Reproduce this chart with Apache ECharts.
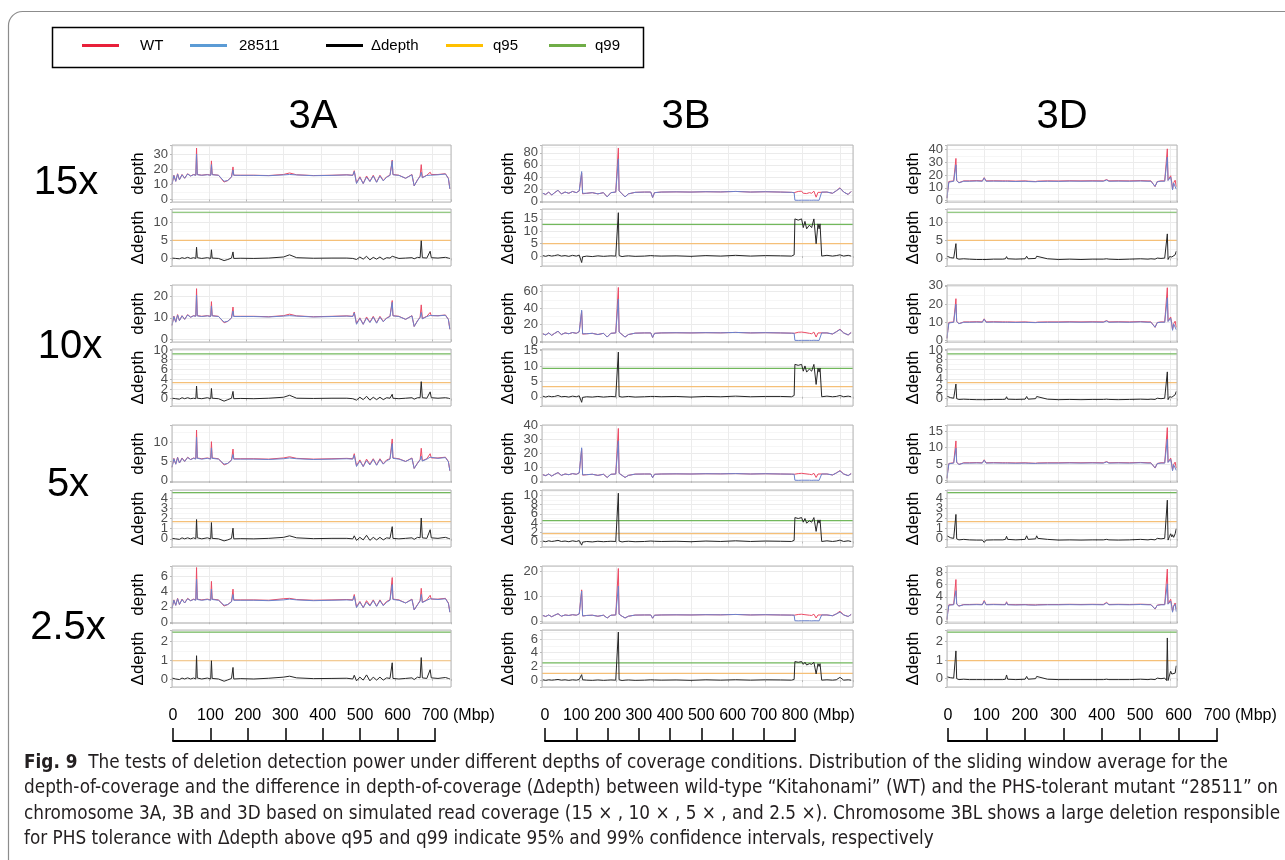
<!DOCTYPE html>
<html><head><meta charset="utf-8">
<script src="https://cdn.jsdelivr.net/npm/echarts@6.0.0/dist/echarts.min.js"></script>
<style>html,body{margin:0;padding:0;background:#fff}#c{width:1285px;height:860px}</style>
</head><body><div id="c"></div>
<script>
// ---------- positions (Mbp) ----------
const posA = [0,5,10,15,20,27,34,42,50,58,64,66,68,80,95,104,106,108,125,140,150,160,164,166,185,220,260,300,316,335,380,430,470,486,490,496,505,514,523,532,541,550,559,568,577,586,590,592,594,610,628,645,651,660,667,670,673,685,694,697,715,735,743,747];
const posB = [2,10,18,26,34,43,52,62,72,82,92,100,104,106.5,109,120,135,150,165,175,185,198,203,205,207,215,223,232,250,275,292,297,302,320,360,400,440,480,520,560,600,640,670,677,679,688,697,701.5,706,710.5,718,724,730,736,741,744,746.5,749,751,765,780,790,800,810,822,830];
const posD = [0,2,5,10,18,22,24,26,32,45,60,80,95,100,105,125,150,157,160,163,185,210,214,218,238,241,244,270,300,330,360,390,420,429,435,460,490,520,540,548,553,559,565,575,585,590,592,594,598,601,604,606,609,613,616];

// ---------- 3A ----------
const wtA15 = [10,16,12,17,13,16.5,14,17,15.5,16.5,16,34,16.5,16,16.5,16,25.5,16.5,16,11.5,12.5,15,21.5,16,16,16,15.8,16.5,17.5,16.3,15.8,16,16.3,16,19,11,15,10.5,15.5,12,16,11.5,16,12.5,15,16,16.5,26,16.5,16,14,16.5,9,13,15.5,23,14.5,16,18,16.5,16.5,17,14,7];
const mutA15 = [10,15.8,12,16.8,13,16.3,14,16.8,15.5,16.3,16,30,16.3,16,16.3,16,23,16.3,16,12,12.5,14.8,19.5,16,15.9,15.9,15.7,16.2,16.5,16.2,15.7,15.9,16.2,15.9,18.5,10.5,14.5,10.5,14.8,11.8,15.5,11.3,15.5,12.3,14.7,15.9,16.3,25.5,16.3,15.9,14,16.3,9,12.8,15.3,18,14.3,15.9,16,16.3,16.3,16.8,13.8,7];
const dA15 = [0.1,0.4,0,0.3,-0.1,0.2,0,0.3,0,0.2,0,3.1,0.2,0,0.2,0,2.4,0.1,0,-0.6,-0.3,0.1,1.8,0,0.05,0,0.1,0.4,1.0,0.2,0.05,0.1,0.1,0,0.5,-0.3,0.4,-0.2,0.6,-0.4,0.3,-0.2,0.4,-0.3,0.2,0.1,0.2,0.6,0.1,0,0.1,0.2,-0.1,0.3,0.2,4.9,0.2,0.1,2.0,0.2,0.1,0.3,0.1,0];
const wtA10 = [6.5,10.8,8,11.5,8.7,11,9.3,11.5,10.3,11,10.8,23.5,11,10.7,11,10.7,17.5,11,10.7,7.7,8.4,10,15,10.7,10.7,10.7,10.5,11,11.7,10.9,10.5,10.7,10.9,10.7,12.7,7.4,10,7,10.4,8,10.7,7.7,10.7,8.3,10,10.7,11,18,11,10.7,9.3,11,6,8.7,10.3,16,9.7,10.7,12.5,11,11,11.3,9.3,4.7];
const mutA10 = [6.5,10.6,8,11.3,8.7,10.9,9.3,11.3,10.3,10.9,10.7,20.5,10.9,10.6,10.9,10.6,15.5,10.9,10.6,8,8.4,9.9,13.2,10.6,10.6,10.6,10.4,10.8,11,10.8,10.4,10.6,10.8,10.6,12.3,7,9.7,7,9.9,7.8,10.3,7.5,10.3,8.2,9.8,10.6,10.9,17.2,10.9,10.6,9.3,10.9,6,8.5,10.2,12.5,9.5,10.6,11.1,10.9,10.9,11.2,9.2,4.7];
const dA10 = [0.1,0.3,0,0.2,-0.1,0.2,0,0.2,0,0.1,0,2.6,0.1,0,0.2,0,2.1,0.1,0,-0.5,-0.2,0.1,1.5,0,0.05,0,0.1,0.3,0.7,0.1,0.05,0.1,0.1,0,0.4,-0.3,0.3,-0.2,0.5,-0.3,0.3,-0.2,0.3,-0.2,0.2,0.1,0.2,0.9,0.1,0,0.1,0.2,-0.1,0.2,0.2,3.5,0.2,0.1,1.4,0.2,0.1,0.2,0.1,0];
const wtA5 = [3.5,5.8,4.3,6.1,4.6,5.9,5,6.1,5.5,5.9,5.7,13.1,5.9,5.7,5.9,5.7,10.1,5.9,5.7,4.1,4.5,5.4,8.2,5.7,5.7,5.7,5.6,5.9,6.2,5.8,5.6,5.7,5.8,5.7,7,3.9,5.4,3.7,5.6,4.3,5.7,4.1,5.7,4.4,5.4,5.7,5.9,10.8,5.9,5.7,5,5.9,3.2,4.6,5.5,8.4,5.2,5.7,7,5.9,5.9,6.1,5,2.6];
const mutA5 = [3.5,5.7,4.3,6,4.6,5.8,5,6,5.5,5.8,5.6,11.2,5.8,5.6,5.8,5.6,8.5,5.8,5.6,4.3,4.5,5.3,6.8,5.6,5.6,5.6,5.5,5.7,5.9,5.7,5.5,5.6,5.7,5.6,6.6,3.7,5.1,3.7,5.2,4.1,5.5,4,5.5,4.3,5.2,5.6,5.8,9.6,5.8,5.6,5,5.8,3.2,4.5,5.4,6.4,5.1,5.6,6.1,5.8,5.8,6,4.9,2.6];
const dA5 = [0.05,0.15,0,0.1,-0.05,0.1,0,0.1,0,0.1,0,1.9,0.1,0,0.1,0,1.6,0.05,0,-0.2,-0.1,0.05,1.05,0,0.02,0,0.05,0.15,0.3,0.1,0.02,0.05,0.05,0,0.3,-0.15,0.15,-0.1,0.35,-0.15,0.15,-0.1,0.15,-0.1,0.1,0.05,0.1,1.2,0.05,0,0.05,0.1,-0.05,0.15,0.1,2.05,0.1,0.05,0.9,0.1,0.05,0.15,0.05,0];
const wtA25 = [1.8,2.9,2.2,3.1,2.3,3,2.5,3.1,2.8,3,2.9,7.1,3,2.9,3,2.9,5.3,3,2.9,2.1,2.3,2.7,4.3,2.9,2.9,2.9,2.85,3.05,3.1,2.95,2.85,2.9,2.95,2.9,3.6,2,2.7,1.9,2.8,2.2,2.9,2.1,2.9,2.2,2.7,2.9,3,5.8,3,2.9,2.5,3,1.6,2.3,2.8,4.4,2.6,2.9,3.5,3,3,3.1,2.5,1.3];
const mutA25 = [1.8,2.85,2.2,3.05,2.3,2.95,2.5,3.05,2.8,2.95,2.85,5.6,2.95,2.85,2.95,2.85,4.3,2.95,2.85,2.2,2.3,2.65,3.6,2.85,2.85,2.85,2.8,2.9,3,2.9,2.8,2.85,2.9,2.85,3.4,1.9,2.6,1.9,2.6,2.1,2.8,2.05,2.8,2.15,2.6,2.85,2.95,4.9,2.95,2.85,2.5,2.95,1.6,2.25,2.75,3.6,2.55,2.85,3.05,2.95,2.95,3.05,2.45,1.3];
const dA25 = [0.05,0.08,0,0.06,-0.03,0.05,0,0.06,0,0.05,0,1.25,0.05,0,0.05,0,0.98,0.03,0,-0.12,-0.05,0.03,0.62,0,0.02,0,0.04,0.1,0.15,0.06,0.02,0.03,0.04,0,0.2,-0.1,0.1,-0.06,0.22,-0.1,0.1,-0.06,0.1,-0.06,0.06,0.03,0.06,0.87,0.03,0,0.03,0.06,-0.03,0.1,0.06,1.15,0.06,0.03,0.5,0.06,0.03,0.08,0.03,0];

// ---------- 3B ----------
const wtB15 = [13,11,15,10,14,18,12,15,13,16,14,17,18,46.5,12,13,14,12,14,7,14,15,16,88,17,12,7,12,14.5,15,15,6,14,15,15.3,15,15.5,15.2,16,15,15.5,15,14.5,14,16.5,16,16.5,13,15.5,12.5,14,13,16.5,6.5,14.5,12.5,14.5,14,15,15,13,17,22,15,11,16];
const mutB15 = [13,11,15,10,14,18,12,15,13,16,14,17,18,49,13,13,14,12,14,7,14,15,16,70,17,12,7,12,14.5,15,15,6,14,15,15.3,15,15.5,15.2,16,15,15.5,15,14.5,14,1.5,1.3,1.5,1.4,1.5,1.3,1.5,1.4,1.6,1.5,1.5,1.4,1.5,1.6,15,15,13,17,21.5,15,11,16];
const dB15 = [0.2,-0.1,0.3,0,0.2,0.5,0,0.2,-0.1,0.3,0,0.4,0.3,-2.6,-0.3,0,-0.2,0.1,-0.1,0,0.1,0,0.3,17.5,0.2,-0.2,0,0.1,-0.1,0,0.2,-0.3,0.1,0,0.1,-0.1,0.2,0,0.3,0,0.2,0.1,0,0.5,15,14.5,15,11.5,14,11,12.5,11.5,15,5,13,11,13,12.5,0,0.3,0,0.2,0.5,0,0.3,0];
const wtB10 = [9,7.5,10,7,9.5,12,8,10,9,10.5,9.5,11.5,12,36,8.5,9,9.5,8,9.5,5,9.5,10,10.5,65,11,8,5,8,9.7,10,10,4.5,9.5,10,10.2,10,10.3,10.1,10.6,10,10.3,10,9.7,9.5,11,10.8,11,9,10.5,8.5,9.5,9,11,5,10,8.5,10,10,10,10,8.7,11.3,14.5,10,7.5,10.5];
const mutB10 = [9,7.5,10,7,9.5,12,8,10,9,10.5,9.5,11.5,12,37.5,9,9,9.5,8,9.5,5,9.5,10,10.5,51,11,8,5,8,9.7,10,10,4.5,9.5,10,10.2,10,10.3,10.1,10.6,10,10.3,10,9.7,9.5,1,0.9,1,0.9,1,0.9,1,0.9,1.1,1,1,0.9,1,1.1,10,10,8.7,11.3,14,10,7.5,10.5];
const dB10 = [0.2,-0.1,0.2,0,0.1,0.4,0,0.1,-0.1,0.2,0,0.3,0.2,-1.8,-0.2,0,-0.1,0.1,-0.1,0,0.1,0,0.2,14.5,0.1,-0.1,0,0.1,-0.1,0,0.1,-0.2,0.1,0,0.1,-0.1,0.1,0,0.2,0,0.1,0.1,0,0.4,10.5,10.2,10.5,8.3,10,8,9,8.3,10.5,4,9.3,8,9.3,9,0,0.2,0,0.1,0.4,0,0.2,0];
const wtB5 = [4.5,3.8,5,3.5,4.8,6,4,5,4.5,5.3,4.8,5.8,6,23,4.2,4.5,4.8,4,4.8,2.5,4.8,5,5.3,38,5.5,4,2.5,4,4.9,5,5,2.3,4.8,5,5.1,5,5.2,5.1,5.3,5,5.2,5,4.9,4.8,5.5,5.3,5.5,4.5,5.2,4.3,4.8,4.5,5.5,2.5,5,4.3,5,5,5,5,4.3,5.7,7.5,5,3.8,5.3];
const mutB5 = [4.5,3.8,5,3.5,4.8,6,4,5,4.5,5.3,4.8,5.8,6,24,4.4,4.5,4.8,4,4.8,2.5,4.8,5,5.3,29,5.5,4,2.5,4,4.9,5,5,2.3,4.8,5,5.1,5,5.2,5.1,5.3,5,5.2,5,4.9,4.8,0.5,0.4,0.5,0.4,0.5,0.4,0.5,0.4,0.5,0.5,0.5,0.4,0.5,0.6,5,5,4.3,5.7,7.2,5,3.8,5.3];
const dB5 = [0.1,-0.05,0.15,0,0.1,0.25,0,0.1,-0.05,0.15,0,0.2,0.15,-0.8,-0.15,0,-0.1,0.05,-0.05,0,0.05,0,0.15,10.5,0.1,-0.1,0,0.05,-0.05,0,0.1,-0.15,0.05,0,0.05,-0.05,0.1,0,0.15,0,0.1,0.05,0,0.25,5.2,5,5.2,4.2,5,4,4.5,4.2,5.2,2.2,4.7,4,4.7,4.5,0,0.15,0,0.1,0.3,0,0.15,0];
const wtB25 = [2.3,1.9,2.5,1.8,2.4,3,2,2.5,2.3,2.6,2.4,2.9,3.1,12.5,2.1,2.3,2.4,2,2.4,1.3,2.4,2.5,2.7,21,2.8,2,1.3,2,2.45,2.5,2.5,1.2,2.4,2.5,2.55,2.5,2.6,2.55,2.7,2.5,2.6,2.5,2.45,2.4,2.8,2.7,2.8,2.3,2.6,2.2,2.4,2.3,2.8,1.3,2.5,2.2,2.5,2.5,2.5,2.5,2.2,2.9,4,2.5,1.9,2.7];
const mutB25 = [2.3,1.9,2.5,1.8,2.4,3,2,2.5,2.3,2.6,2.4,2.9,3.1,12,2.1,2.3,2.4,2,2.4,1.3,2.4,2.5,2.7,14,2.8,2,1.3,2,2.45,2.5,2.5,1.2,2.4,2.5,2.55,2.5,2.6,2.55,2.7,2.5,2.6,2.5,2.45,2.4,0.2,0.15,0.2,0.15,0.2,0.15,0.2,0.15,0.2,0.2,0.2,0.15,0.2,0.3,2.5,2.5,2.2,2.9,3.6,2.5,1.9,2.7];
const dB25 = [0.05,-0.03,0.05,0,0.04,0.1,0,0.05,-0.03,0.05,0,0.1,0.08,0.8,0.05,0,-0.03,0.03,-0.03,0,0.03,0,0.06,7,0.05,-0.05,0,0.03,-0.03,0,0.05,-0.05,0.03,0,0.03,-0.03,0.05,0,0.06,0,0.05,0.03,0,0.1,2.7,2.6,2.7,2.3,2.6,2.2,2.4,2.3,2.6,0.9,2.4,2,2.4,2.3,0,0.05,0,0.05,0.4,0,0.05,0];

// ---------- 3D ----------
const wtD15 = [2,8,15,16,15.5,16,33,16,14,15.5,15.5,15.7,15.5,18,15.5,15.6,15.5,15.5,17,15.5,15.3,15.5,16,15.3,15,14,15.3,15.5,15.4,15.6,15.5,15.6,15.5,16.5,15.5,15.6,15.5,15.7,15.5,15.5,14,11,15,15.5,15.5,16,40.5,16,15,19.5,14,9,14,16,11];
const mutD15 = [2,7.5,14.5,15.7,15.2,15.7,28,15.7,14,15.2,15.2,15.4,15.2,17.8,15.2,15.3,15.2,15.2,16.5,15.2,15,15.2,15.5,15,14.8,14.2,15,15.2,15.1,15.3,15.2,15.3,15.2,16.2,15.2,15.3,15.2,15.4,15.2,15.2,13.8,11.2,14.8,15.2,15.2,15.7,34,15.8,14.6,18.5,13.6,8.5,13.8,15,9];
const dD15 = [0.6,0.8,0.3,0.2,0.1,0.2,4.1,0,-0.2,-0.1,-0.2,-0.3,-0.3,-0.8,-0.3,-0.2,-0.2,-0.1,0.5,-0.1,-0.2,-0.1,0.6,-0.1,0,0.6,0.1,-0.1,-0.3,-0.2,-0.3,-0.2,-0.2,-0.1,-0.2,-0.3,-0.2,-0.1,-0.2,-0.1,0,-0.2,0.1,0,0.1,-0.3,6.8,-0.3,0.5,1.0,0.4,0.8,0.3,1.0,2.0];
const wtD10 = [1.3,5.5,10,10.7,10.3,10.7,23,10.7,9.3,10.3,10.3,10.4,10.3,12,10.3,10.4,10.3,10.3,11.3,10.3,10.2,10.3,10.7,10.2,10,9.3,10.2,10.3,10.3,10.4,10.3,10.4,10.3,11,10.3,10.4,10.3,10.5,10.3,10.3,9.3,7.3,10,10.3,10.3,10.7,29,10.7,10,13,9.3,6,9.3,10.7,7.3];
const mutD10 = [1.3,5,9.7,10.5,10.1,10.5,20,10.5,9.3,10.1,10.1,10.2,10.1,11.8,10.1,10.2,10.1,10.1,11,10.1,10,10.1,10.3,10,9.9,9.4,10,10.1,10.1,10.2,10.1,10.2,10.1,10.8,10.1,10.2,10.1,10.3,10.1,10.1,9.2,7.4,9.9,10.1,10.1,10.5,23.5,10.5,9.7,12.3,9,5.7,9.2,10,6];
const dD10 = [0.5,0.6,0.3,0.2,0.1,0.2,3,0,-0.15,-0.1,-0.15,-0.2,-0.2,-0.6,-0.2,-0.15,-0.15,-0.1,0.4,-0.1,-0.15,-0.1,0.45,-0.1,0,0.45,0.1,-0.1,-0.2,-0.15,-0.2,-0.15,-0.15,-0.1,-0.15,-0.2,-0.15,-0.1,-0.15,-0.1,0,-0.15,0.1,0,0.1,-0.2,5.5,-0.2,0.4,0.8,0.3,0.6,0.2,0.8,1.5];
const wtD5 = [0.7,2.9,5.2,5.6,5.4,5.6,12,5.6,4.9,5.4,5.4,5.45,5.4,6.3,5.4,5.45,5.4,5.4,5.9,5.4,5.35,5.4,5.6,5.35,5.25,4.9,5.35,5.4,5.4,5.45,5.4,5.45,5.4,5.75,5.4,5.45,5.4,5.5,5.4,5.4,4.9,3.8,5.2,5.4,5.4,5.6,16,5.6,5.2,6.8,4.9,3.2,4.9,5.6,3.8];
const mutD5 = [0.7,2.6,5.1,5.5,5.3,5.5,9.8,5.5,4.9,5.3,5.3,5.35,5.3,6.2,5.3,5.35,5.3,5.3,5.75,5.3,5.25,5.3,5.4,5.25,5.2,4.95,5.25,5.3,5.3,5.35,5.3,5.35,5.3,5.65,5.3,5.35,5.3,5.4,5.3,5.3,4.85,3.9,5.15,5.3,5.3,5.5,12.5,5.5,5.05,6.4,4.7,3,4.8,5.2,3.1];
const dD5 = [0.3,0.4,0.15,0.1,0.05,0.1,2.4,0,-0.1,-0.05,-0.1,-0.12,-0.12,-0.35,-0.12,-0.1,-0.1,-0.05,0.25,-0.05,-0.1,-0.05,0.3,-0.05,0,0.3,0.05,-0.05,-0.12,-0.1,-0.12,-0.1,-0.1,-0.05,-0.1,-0.12,-0.1,-0.05,-0.1,-0.05,0,-0.1,0.05,0,0.05,-0.12,3.8,-0.12,0.25,0.5,0.2,0.4,0.15,0.5,1.0];
const wtD25 = [0.3,1.5,2.7,2.85,2.75,2.85,6.8,2.85,2.5,2.75,2.75,2.78,2.75,3.4,2.75,2.78,2.75,2.75,3.2,2.75,2.72,2.75,3,2.72,2.68,2.5,2.72,2.75,2.75,2.78,2.75,2.78,2.75,3.1,2.75,2.78,2.75,2.8,2.75,2.75,2.5,2,2.65,2.75,2.75,2.85,8.5,2.85,2.65,3.6,2.5,1.6,2.5,3,2];
const mutD25 = [0.3,1.4,2.65,2.8,2.7,2.8,5,2.8,2.5,2.7,2.7,2.73,2.7,3.3,2.7,2.73,2.7,2.7,3.1,2.7,2.67,2.7,2.85,2.67,2.65,2.52,2.67,2.7,2.7,2.73,2.7,2.73,2.7,3,2.7,2.73,2.7,2.75,2.7,2.7,2.47,2.05,2.62,2.7,2.7,2.8,6.1,2.8,2.55,3.3,2.4,1.5,2.45,2.8,1.6];
const dD25 = [0.1,0.15,0.05,0.05,0.03,0.05,1.5,0,-0.05,-0.03,-0.05,-0.05,-0.05,-0.15,-0.05,-0.05,-0.05,-0.03,0.2,-0.03,-0.05,-0.03,0.12,-0.03,0,0.12,0.03,-0.03,-0.05,-0.05,-0.05,-0.05,-0.05,-0.03,-0.05,-0.05,-0.05,-0.03,-0.05,-0.03,0,-0.05,0.03,0,0.03,-0.1,2.2,-0.1,0.2,0.4,0.25,0.35,0.2,0.3,0.7];

// ---------- thresholds per coverage (15x,10x,5x,2.5x) ----------
const coverageLabels = ['15x','10x','5x','2.5x'];
const q95 = [5.0, 3.3, 1.7, 0.98];
const q99 = [12.8, 9.2, 4.55, 2.52];

// ---------- axis ranges [min, max, tick step] ----------
const depthAxisA = [[-1.7,36,10],[-1.2,25.2,10],[-0.3,14.4,5],[-0.1,7.3,2]];
const depthAxisB = [[-1.5,93,20],[-1,68,20],[-0.8,40.5,10],[-0.7,22,10]];
const depthAxisD = [[-1,43.5,10],[-0.7,30.5,10],[-0.4,16.8,5],[-0.25,9,2]];
const deltaAxisA = [[-2.1,13.7,5],[-1.5,10.2,2],[-0.8,4.8,1],[-0.43,2.63,1]];
const deltaAxisB = [[-4,19,5],[-3,15.5,5],[-1.2,11.2,2],[-1,7.3,2]];
const deltaAxisD = [[-2.1,13.7,5],[-1.5,10.2,2],[-0.8,4.8,1],[-0.45,2.63,1]];
const chromNames = ['3A','3B','3D'];
const chromLen = [750, 835, 618];
const rulerMax = [700, 800, 700];

// ---------- styling / layout ----------
const FF = "'Liberation Sans', Arial, Helvetica, sans-serif";
const FFN = "'Liberation Sans Narrow', 'DejaVu Sans Condensed', 'Liberation Sans', sans-serif";
const C_WT = '#ec4a64', C_MUT = '#6b82cc', C_D = '#262626', C_Q95 = '#f5c078', C_Q99 = '#72b85c';
const COLS = [
  {left:172, width:279, pos:posA, wt:[wtA15,wtA10,wtA5,wtA25], mut:[mutA15,mutA10,mutA5,mutA25], d:[dA15,dA10,dA5,dA25], dax:depthAxisA, qax:deltaAxisA, title:313, rl:173, rw:262},
  {left:542, width:311, pos:posB, wt:[wtB15,wtB10,wtB5,wtB25], mut:[mutB15,mutB10,mutB5,mutB25], d:[dB15,dB10,dB5,dB25], dax:depthAxisB, qax:deltaAxisB, title:686, rl:545, rw:250},
  {left:947, width:230, pos:posD, wt:[wtD15,wtD10,wtD5,wtD25], mut:[mutD15,mutD10,mutD5,mutD25], d:[dD15,dD10,dD5,dD25], dax:depthAxisD, qax:deltaAxisD, title:1062, rl:948, rw:269}
];
const depthTop = [145, 285, 425, 566];
const deltaTop = [209, 349, 490, 630];
const PH = 57;
const rowLabelY = [183, 347, 485, 628];
const rowLabelX = [66, 70, 68, 68];
const RULER_Y = 740;

function zip(p, v) { return p.map((x, i) => [x, v[i]]); }
function fmt(step) {
  return function (v) {
    const r = v / step;
    return Math.abs(r - Math.round(r)) < 1e-6 ? String(Math.round(v * 1000) / 1000) : '';
  };
}

const grids = [], xAxes = [], yAxes = [], series = [];
function addPanel(col, ci, top, ax, name) {
  const idx = grids.length;
  grids.push({left: col.left, top: top, width: col.width, height: PH, show: true,
    borderColor: '#b8b8b8', borderWidth: 1, backgroundColor: 'rgba(0,0,0,0)', z: 5, containLabel: false});
  xAxes.push({gridIndex: idx, type: 'value', min: 0, max: chromLen[ci], minInterval: 100, maxInterval: 100,
    axisLine: {show: false}, axisLabel: {show: false},
    axisTick: {show: true, length: 2, lineStyle: {color: '#b8b8b8'}},
    splitLine: {show: true, lineStyle: {color: '#ececec', width: 1}}});
  yAxes.push({gridIndex: idx, type: 'value', min: ax[0], max: ax[1], minInterval: ax[2], maxInterval: ax[2],
    name: name, nameLocation: 'middle', nameGap: 25, nameRotate: 90,
    nameTextStyle: {color: '#000', fontSize: 17, fontFamily: FF},
    axisLine: {show: false},
    axisTick: {show: true, length: 2, lineStyle: {color: '#b8b8b8'}},
    axisLabel: {margin: 4, color: '#4d4d4d', fontSize: 13, fontFamily: FF, formatter: fmt(ax[2])},
    splitLine: {show: true, lineStyle: {color: '#ebebeb', width: 1}},
    minorTick: {show: false, splitNumber: 2},
    minorSplitLine: {show: true, lineStyle: {color: '#f6f6f6', width: 1}}});
  return idx;
}
function lineSeries(name, idx, data, color, w) {
  return {type: 'line', name: name, xAxisIndex: idx, yAxisIndex: idx, data: data, symbol: 'none', showSymbol: false,
    lineStyle: {color: color, width: w}, itemStyle: {color: color}, silent: true, animation: false, clip: true};
}

COLS.forEach((col, ci) => {
  for (let r = 0; r < 4; r++) {
    const i1 = addPanel(col, ci, depthTop[r], col.dax[r], 'depth');
    series.push(lineSeries('WT', i1, zip(col.pos, col.wt[r]), C_WT, 1));
    series.push(lineSeries('28511', i1, zip(col.pos, col.mut[r]), C_MUT, 1));
    const i2 = addPanel(col, ci, deltaTop[r], col.qax[r], 'Δdepth');
    series.push(lineSeries('q95', i2, [[0, q95[r]], [chromLen[ci], q95[r]]], C_Q95, 1.2));
    series.push(lineSeries('q99', i2, [[0, q99[r]], [chromLen[ci], q99[r]]], C_Q99, 1.2));
    series.push(lineSeries('Δdepth', i2, zip(col.pos, col.d[r]), C_D, 1));
  }
  // ruler axis
  const ri = grids.length;
  grids.push({left: col.rl, top: RULER_Y, width: col.rw, height: 1, show: false});
  xAxes.push({gridIndex: ri, type: 'value', position: 'top', min: 0, max: rulerMax[ci], minInterval: 100, maxInterval: 100,
    axisLine: {show: true, lineStyle: {color: '#000', width: 2}},
    axisTick: {show: true, inside: false, length: 13, lineStyle: {color: '#000', width: 1.5}},
    axisLabel: {show: true, margin: 16, color: '#000', fontSize: 16, fontFamily: FF},
    splitLine: {show: false}});
  yAxes.push({gridIndex: ri, type: 'value', show: false});
});

const legendItems = [
  {name: 'WT', left: 82, pad: 16, color: '#e8203a'},
  {name: '28511', left: 190, pad: 7, color: '#5b9bd5'},
  {name: 'Δdepth', left: 326, pad: 3, color: '#000000'},
  {name: 'q95', left: 446, pad: 5, color: '#ffc000'},
  {name: 'q99', left: 549, pad: 4, color: '#70ad47'}
];
const legends = legendItems.map(it => ({
  left: it.left, top: 38, padding: 0, itemWidth: 37, itemHeight: 3, icon: 'rect', selectedMode: false,
  data: [{name: it.name, icon: 'rect', itemStyle: {color: it.color, borderWidth: 0}}],
  textStyle: {fontSize: 15, fontFamily: FF, color: '#000', padding: [0, 0, 0, it.pad]}
}));

const graphics = [
  {type: 'rect', shape: {x: 8.5, y: 11.5, width: 1400, height: 1000, r: 14}, style: {fill: 'none', stroke: '#8c8c8c', lineWidth: 1.2}, silent: true},
  {type: 'rect', shape: {x: 52.5, y: 27.5, width: 591, height: 40}, style: {fill: 'none', stroke: '#000', lineWidth: 1.5}, silent: true}
];
COLS.forEach((col, ci) => {
  graphics.push({type: 'text', style: {text: chromNames[ci], x: col.title, y: 117, textAlign: 'center', textVerticalAlign: 'middle', align: 'center', verticalAlign: 'middle', fontSize: 40, fontFamily: FF, fill: '#000'}});
  graphics.push({type: 'text', style: {text: '(Mbp)', x: col.rl + col.rw + 18, y: RULER_Y - 24, textAlign: 'left', textVerticalAlign: 'middle', align: 'left', verticalAlign: 'middle', fontSize: 16, fontFamily: FF, fill: '#000'}});
});
coverageLabels.forEach((t, r) => {
  graphics.push({type: 'text', style: {text: t, x: rowLabelX[r], y: rowLabelY[r], textAlign: 'center', textVerticalAlign: 'middle', align: 'center', verticalAlign: 'middle', fontSize: 40, fontFamily: FF, fill: '#000'}});
});
const captionLines = [
  '{b|Fig. 9}{n|  The tests of deletion detection power under different depths of coverage conditions. Distribution of the sliding window average for the}',
  '{n|depth-of-coverage and the difference in depth-of-coverage (Δdepth) between wild-type “Kitahonami” (WT) and the PHS-tolerant mutant “28511” on}',
  '{n|chromosome 3A, 3B and 3D based on simulated read coverage (15 × , 10 × , 5 × , and 2.5 ×). Chromosome 3BL shows a large deletion responsible}',
  '{n|for PHS tolerance with Δdepth above q95 and q99 indicate 95% and 99% confidence intervals, respectively}'
];
const captionY = [763, 788.5, 814, 839.5];
const CAP = 18.8;
captionLines.forEach((t, i) => {
  graphics.push({type: 'text', style: {text: t, x: 24, y: captionY[i], textAlign: 'left', textVerticalAlign: 'middle', align: 'left', verticalAlign: 'middle',
    rich: {b: {fontSize: CAP, fontWeight: 'bold', fontFamily: FFN, fill: '#231f20', color: '#231f20'}, n: {fontSize: CAP, fontFamily: FFN, fill: '#231f20', color: '#231f20'}}}});
});

const chart = echarts.init(document.getElementById('c'), null, {renderer: 'canvas'});
chart.setOption({
  backgroundColor: '#ffffff',
  animation: false,
  grid: grids, xAxis: xAxes, yAxis: yAxes, series: series,
  legend: legends,
  graphic: graphics
});
</script></body></html>
